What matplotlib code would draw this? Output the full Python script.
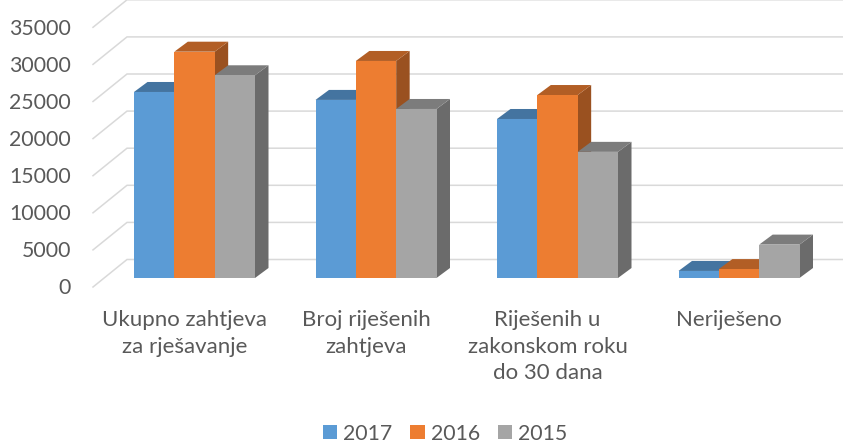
import numpy as np
import matplotlib
matplotlib.use("Agg")
import matplotlib.pyplot as plt
from matplotlib.colors import to_rgb
from matplotlib.patches import Patch

plt.rcParams["font.family"] = "Lato"

# Datos
categorias = ["Ukupno zahtjeva\nza rješavanje", "Broj riješenih\nzahtjeva",
              "Riješenih u\nzakonskom roku\ndo 30 dana", "Neriješeno"]
anios = ["2017", "2016", "2015"]
v2017 = [25070, 24000, 21430, 950]
v2016 = [30500, 29250, 24660, 1200]
v2015 = [27320, 22780, 17000, 4500]
ticks = [0, 5000, 10000, 15000, 20000, 25000, 30000, 35000]

colores = ["#5B9BD5", "#ED7D31", "#A5A5A5"]
gris_texto = "#595959"
gris_grid = "#D9D9D9"

# Escala: un grupo son 181.5 px y 5000 unidades son 37.1 px
px_x = 1 / 181.5
px_y = 5000 / 37.1
ancho = 1 / 4.5
prof_x = 13.5 * px_x  # profundidad de las barras
prof_y = 10 * px_y

fig = plt.figure(figsize=(8.43, 4.43), dpi=100)
ax = fig.add_axes([0, 0, 1, 1])
ax.set_xlim(-194.5 * px_x, (843 - 194.5) * px_x)
ax.set_ylim(-165 * px_y, 278 * px_y)
ax.axis("off")

# Rejilla: diagonal en la pared lateral y horizontal en la pared del fondo
izq = -101.5 * px_x
fondo_x = -67.5 * px_x
dy_frente = -9 * px_y
dy_fondo = 18.5 * px_y
for t in ticks:
    ax.plot([izq, fondo_x, ax.get_xlim()[1]],
            [t + dy_frente, t + dy_fondo, t + dy_fondo],
            color=gris_grid, lw=1.1, zorder=1, solid_joinstyle="miter")
    ax.text(izq - 22 * px_x, t + dy_frente - 1.5 * px_y, str(t), ha="right", va="center",
            fontsize=15.3, color=gris_texto)

# Barras con su cara superior y lateral
x = np.arange(len(categorias))
series = [v2017, v2016, v2015]
z = 2
for s, valores in enumerate(series):
    rgb = np.array(to_rgb(colores[s]))
    arriba = rgb * 0.75
    lado = rgb * 0.65
    for xi, v in zip(x, valores):
        x0 = xi + (s - 1.5) * ancho
        x1 = x0 + ancho
        ax.fill([x1, x1 + prof_x, x1 + prof_x, x1],
                [0, prof_y, v + prof_y, v], color=lado, lw=0, zorder=z)
        ax.fill([x0, x1, x1 + prof_x, x0 + prof_x],
                [v, v, v + prof_y, v + prof_y], color=arriba, lw=0, zorder=z)
        ax.bar(x0, v, width=ancho, align="edge", color=colores[s], lw=0, zorder=z + 0.5)
    z += 1

# Etiquetas de categorias
for xi, c in zip(x, categorias):
    ax.text(xi - 10 * px_x, -32 * px_y, c, ha="center", va="top", fontsize=16,
            color=gris_texto, linespacing=1.42)

# Leyenda
handles = [Patch(color=colores[i], lw=0) for i in range(3)]
ax.legend(handles, anios, loc="lower center", bbox_to_anchor=(0.528, -0.035), ncol=3,
          frameon=False, fontsize=15.3, labelcolor=gris_texto, handlelength=0.68,
          handleheight=0.68, handletextpad=0.28, columnspacing=0.85, borderpad=0.2)

fig.savefig("out.png", dpi=100)
